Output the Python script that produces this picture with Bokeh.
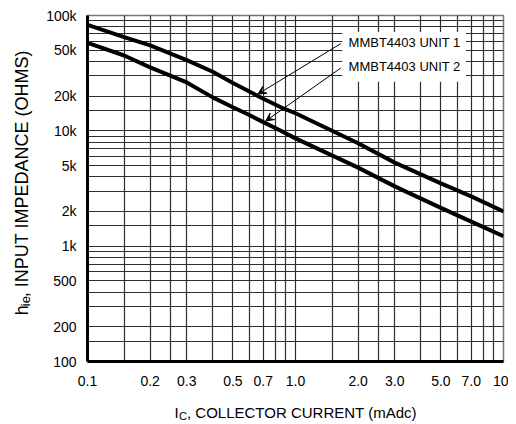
import numpy as np
from math import pi
from bokeh.plotting import figure
from bokeh.layouts import row, column
from bokeh.models import Range1d, FixedTicker, Label, Arrow, VeeHead, BoxAnnotation
from bokeh.embed import file_html
from bokeh.resources import INLINE

# ---- data ----
ic_ma = [0.1, 0.15, 0.2, 0.3, 0.4, 0.5, 0.6, 0.7, 0.85, 1.0, 2.0, 3.0, 5.0, 7.0, 10.0]
unit1 = [83000, 65000, 55000, 41000, 32500, 26000, 21900, 19000, 16000, 14200, 7800, 5300, 3500, 2700, 2000]
unit2 = [58000, 45000, 35500, 26300, 19500, 16000, 13700, 11900, 10000, 8600, 4800, 3300, 2150, 1630, 1220]
series_names = ["MMBT4403 UNIT 1", "MMBT4403 UNIT 2"]

x_ticks = [0.1, 0.2, 0.3, 0.5, 0.7, 1.0, 2.0, 3.0, 5.0, 7.0, 10.0]
x_tick_labels = ["0.1", "0.2", "0.3", "0.5", "0.7", "1.0", "2.0", "3.0", "5.0", "7.0", "10"]
y_ticks = [100, 200, 500, 1000, 2000, 5000, 10000, 20000, 50000, 100000]
y_tick_labels = ["100", "200", "500", "1k", "2k", "5k", "10k", "20k", "50k", "100k"]
x_grid_mult = [1, 1.5, 2, 2.5, 3, 4, 5, 6, 7, 8, 9]
y_grid_mult = [1, 1.5, 2, 3, 4, 5, 6, 7, 8, 9]

y_title = ["h", "ie", ", INPUT IMPEDANCE (OHMS)"]
x_title = ["I", "C", ", COLLECTOR CURRENT (mAdc)"]

x_grid = [d * m for d in (0.1, 1.0) for m in x_grid_mult] + [10.0]
y_grid = [d * m for d in (100, 1000, 10000) for m in y_grid_mult] + [100000]

FONT = "'Liberation Sans', Arial, sans-serif"

YW, MW, MH, XH = 34, 474, 388, 34

# ---- main chart ----
p = figure(width=MW, height=MH, x_axis_type="log", y_axis_type="log",
           x_range=Range1d(0.1, 10), y_range=Range1d(100, 100000),
           output_backend="svg", toolbar_location=None,
           min_border_left=53, min_border_right=5, min_border_top=15, min_border_bottom=27)
p.background_fill_color = "white"
p.border_fill_color = "white"
p.outline_line_color = "#777777"
p.outline_line_width = 1.5

for g, vals in ((p.xgrid, x_grid), (p.ygrid, y_grid)):
    g.ticker = FixedTicker(ticks=vals)
    g.grid_line_color = "#2e2e2e"
    g.grid_line_width = 1.2

p.xaxis.ticker = FixedTicker(ticks=x_ticks)
p.xaxis.major_label_overrides = {t: l for t, l in zip(x_ticks, x_tick_labels)}
p.yaxis.ticker = FixedTicker(ticks=y_ticks)
p.yaxis.major_label_overrides = {t: l for t, l in zip(y_ticks, y_tick_labels)}
for ax in (p.xaxis, p.yaxis):
    ax.major_tick_line_color = None
    ax.minor_tick_line_color = None
    ax.axis_line_color = "black"
    ax.axis_line_width = 3
    ax.major_label_text_font = FONT
    ax.major_label_text_color = "black"
    ax.major_label_text_font_size = "14px"
    ax.axis_label = None
p.xaxis.major_label_standoff = 8
p.yaxis.major_label_standoff = 5

for ys in (unit1, unit2):
    p.line(ic_ma, ys, line_color="black", line_width=4)

# annotation box + labels
p.add_layout(BoxAnnotation(left=1.68, right=6.6, bottom=26700, top=72000,
                           fill_color="white", fill_alpha=1.0, line_color=None))
p.add_layout(Label(x=1.8, y=58000, text=series_names[0], text_baseline="middle",
                   text_font=FONT, text_font_size="13px", text_color="black"))
p.add_layout(Label(x=1.8, y=36000, text=series_names[1], text_baseline="middle",
                   text_font=FONT, text_font_size="13px", text_color="black"))

lx = np.log10(ic_ma)
tip1_x, tip2_x = 0.66, 0.72
tip1_y = 10 ** np.interp(np.log10(tip1_x), lx, np.log10(unit1))
tip2_y = 10 ** np.interp(np.log10(tip2_x), lx, np.log10(unit2))
for (xs, ys, xe, ye) in ((1.65, 57000, tip1_x, tip1_y * 1.04), (1.65, 35000, tip2_x, tip2_y * 1.05)):
    p.add_layout(Arrow(end=VeeHead(size=8, fill_color="black", line_color="black", line_width=1),
                       x_start=xs, y_start=ys, x_end=xe, y_end=ye,
                       line_color="black", line_width=1))


def text_panel(w, h):
    f = figure(width=w, height=h, x_range=Range1d(0, w), y_range=Range1d(0, h),
               output_backend="svg", toolbar_location=None, min_border=0,
               x_axis_location=None, y_axis_location=None)
    f.grid.visible = False
    f.outline_line_color = None
    f.background_fill_color = "white"
    f.border_fill_color = "white"
    return f


# ---- y axis title (rotated, with subscript) ----
yp = text_panel(YW, MH)
ycx, ys0 = 21, 52
yp.add_layout(Label(x=ycx, y=ys0, text=y_title[0], angle=pi / 2, text_baseline="middle",
                    text_align="left", text_font=FONT, text_font_size="18px", text_color="black"))
yp.add_layout(Label(x=ycx + 4, y=ys0 + 10, text=y_title[1], angle=pi / 2, text_baseline="middle",
                    text_align="left", text_font=FONT, text_font_size="13px", text_color="black"))
yp.add_layout(Label(x=ycx, y=ys0 + 20, text=y_title[2], angle=pi / 2, text_baseline="middle",
                    text_align="left", text_font=FONT, text_font_size="18px", text_color="black"))

# ---- x axis title (with subscript) ----
xp = text_panel(YW + MW, XH)
xs0, xb = 174, 10
xp.add_layout(Label(x=xs0, y=xb, text=x_title[0], text_baseline="alphabetic",
                    text_font=FONT, text_font_size="15px", text_color="black"))
xp.add_layout(Label(x=xs0 + 4.5, y=xb - 3.5, text=x_title[1], text_baseline="alphabetic",
                    text_font=FONT, text_font_size="11px", text_color="black"))
xp.add_layout(Label(x=xs0 + 12.5, y=xb, text=x_title[2], text_baseline="alphabetic",
                    text_font=FONT, text_font_size="15px", text_color="black"))

layout = column(row(yp, p, spacing=0), xp, spacing=0)
open("out.html", "w").write(file_html(layout, INLINE))
